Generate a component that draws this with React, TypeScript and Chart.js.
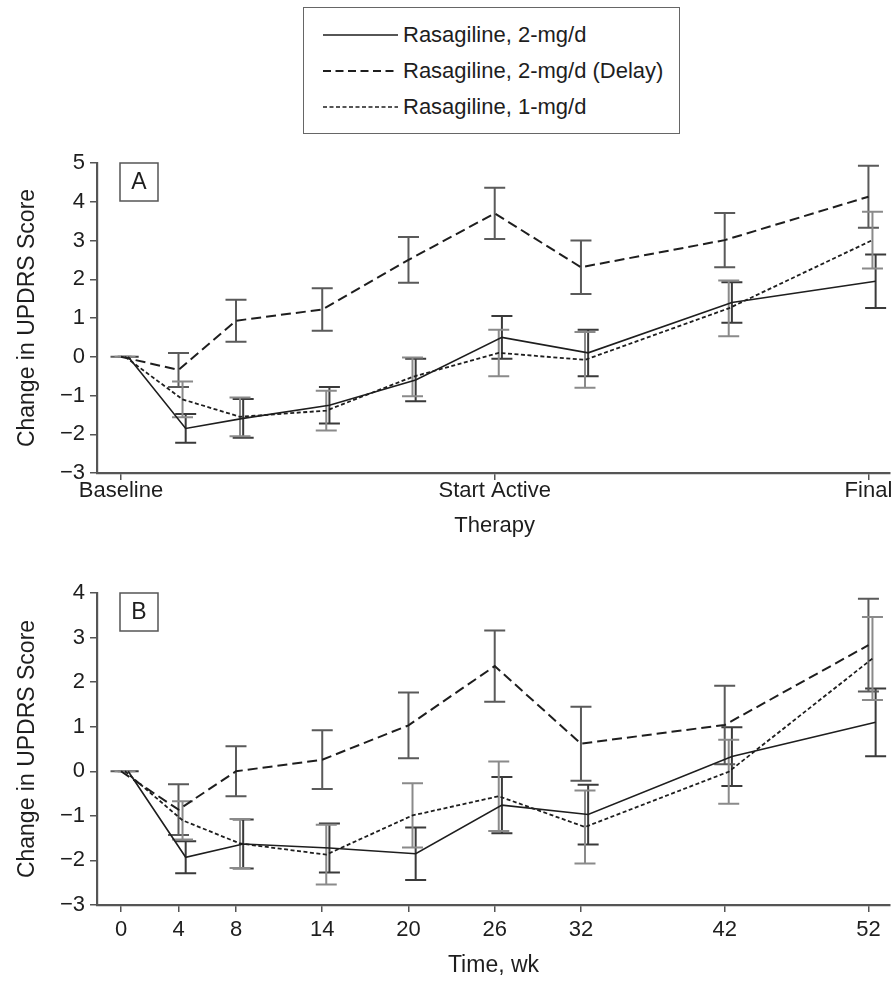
import React, { useEffect, useRef } from 'react';
import { Chart, registerables } from 'chart.js';
Chart.register(...registerables);

// ---------- data ----------
const weeks = [0, 4, 8, 14, 20, 26, 32, 42, 52];
const seriesNames = ['Rasagiline, 2-mg/d', 'Rasagiline, 2-mg/d (Delay)', 'Rasagiline, 1-mg/d'];

const aTickWeeks = [0, 26, 52];
const aTickLabels: (string | string[])[] = ['Baseline', ['Start Active', 'Therapy'], 'Final'];
const bTickWeeks = [0, 4, 8, 14, 20, 26, 32, 42, 52];
const bTickLabels = ['0', '4', '8', '14', '20', '26', '32', '42', '52'];

// Panel A
const aSolid = [0, -1.85, -1.59, -1.25, -0.6, 0.5, 0.1, 1.4, 1.95];
const aSolidSE = [0, 0.37, 0.5, 0.47, 0.55, 0.55, 0.6, 0.52, 0.69];
const aDelay = [0, -0.34, 0.93, 1.22, 2.5, 3.7, 2.31, 3.01, 4.13];
const aDelaySE = [0, 0.44, 0.54, 0.55, 0.59, 0.66, 0.69, 0.7, 0.8];
const aLow = [0, -1.1, -1.55, -1.39, -0.52, 0.1, -0.08, 1.25, 3.01];
const aLowSE = [0, 0.46, 0.5, 0.51, 0.5, 0.6, 0.72, 0.72, 0.73];

// Panel B
const bSolid = [0, -1.93, -1.63, -1.72, -1.85, -0.76, -0.97, 0.33, 1.1];
const bSolidSE = [0, 0.36, 0.55, 0.55, 0.59, 0.63, 0.67, 0.66, 0.76];
const bDelay = [0, -0.86, 0.0, 0.26, 1.03, 2.36, 0.62, 1.04, 2.83];
const bDelaySE = [0, 0.57, 0.56, 0.66, 0.74, 0.8, 0.83, 0.88, 1.04];
const bLow = [0, -1.1, -1.62, -1.87, -0.99, -0.56, -1.25, -0.01, 2.53];
const bLowSE = [0, 0.43, 0.55, 0.67, 0.72, 0.78, 0.82, 0.72, 0.93];

// ---------- styles ----------
const FONT = "'Liberation Sans', Arial, sans-serif";
const INK = '#1e1e1e';
const AXIS = '#555';
// horizontal dodge (in weeks) so error bars don't overlap
const dodge = [0.5, 0, 0.28];
const lineStyles = [
  { dash: [] as number[], width: 1.6, bar: '#3a3a3a' },
  { dash: [10, 5], width: 2, bar: '#5a5a5a' },
  { dash: [4, 2.5], width: 1.8, bar: '#8a8a8a' },
];

const errorBarPlugin = {
  id: 'errorBars',
  beforeDatasetsDraw(chart: any) {
    const ctx = chart.ctx;
    const y = chart.scales.y;
    chart.data.datasets.forEach((ds: any, i: number) => {
      const meta = chart.getDatasetMeta(i);
      ctx.save();
      ctx.strokeStyle = ds.barColor;
      ctx.lineWidth = 2;
      ctx.setLineDash([]);
      ds.data.forEach((p: any, j: number) => {
        const x = meta.data[j].x;
        const se = ds.se[j];
        const yt = y.getPixelForValue(p.y + se);
        const yb = y.getPixelForValue(p.y - se);
        ctx.beginPath();
        ctx.moveTo(x, yt);
        ctx.lineTo(x, yb);
        ctx.moveTo(x - 10.5, yt);
        ctx.lineTo(x + 10.5, yt);
        ctx.moveTo(x - 10.5, yb);
        ctx.lineTo(x + 10.5, yb);
        ctx.stroke();
      });
      ctx.restore();
    });
  },
};

const panelLabelPlugin = {
  id: 'panelLabel',
  afterDraw(chart: any, _args: any, opts: any) {
    const { ctx, chartArea } = chart;
    const x = chartArea.left + 23;
    const yTop = chartArea.top;
    ctx.save();
    ctx.strokeStyle = '#555';
    ctx.lineWidth = 1.5;
    ctx.strokeRect(x, yTop, 38, 38);
    ctx.fillStyle = INK;
    ctx.font = `23px ${FONT}`;
    ctx.textAlign = 'center';
    ctx.textBaseline = 'middle';
    ctx.fillText(opts.text, x + 19, yTop + 20);
    ctx.restore();
  },
};

function buildDatasets(vals: number[][], ses: number[][]) {
  return vals.map((v, i) => ({
    label: seriesNames[i],
    data: v.map((val, j) => ({ x: weeks[j] + dodge[i], y: val })),
    se: ses[i],
    barColor: lineStyles[i].bar,
    borderColor: INK,
    borderWidth: lineStyles[i].width,
    borderDash: lineStyles[i].dash,
    pointRadius: 0,
    tension: 0,
    fill: false,
  }));
}

const minusFmt = (v: number) => (v < 0 ? '\u2212' + Math.abs(v) : String(v));

function makeConfig(opts: {
  vals: number[][];
  ses: number[][];
  yMin: number;
  yMax: number;
  padTop: number;
  xHeight: number;
  tickWeeks: number[];
  tickLabels: (string | string[])[];
  xTitle: string | null;
  label: string;
  tickPad: number;
  tickLH: number;
}) {
  return {
    type: 'line' as const,
    data: { datasets: buildDatasets(opts.vals, opts.ses) },
    plugins: [errorBarPlugin, panelLabelPlugin],
    options: {
      responsive: false,
      maintainAspectRatio: false,
      animation: false,
      layout: { padding: { top: opts.padTop, right: 3, left: 0, bottom: 0 } },
      plugins: {
        legend: { display: false },
        tooltip: { enabled: false },
        panelLabel: { text: opts.label },
      },
      scales: {
        x: {
          type: 'linear',
          min: -1.67,
          max: 53.5,
          afterBuildTicks: (s: any) => {
            s.ticks = opts.tickWeeks.map((v) => ({ value: v }));
          },
          afterFit: (s: any) => {
            s.height = opts.xHeight;
          },
          ticks: {
            autoSkip: false,
            maxRotation: 0,
            color: INK,
            padding: opts.tickPad,
            font: { family: FONT, size: 22, lineHeight: opts.tickLH },
            callback: (_v: any, i: number) => opts.tickLabels[i],
          },
          grid: { drawOnChartArea: false, drawTicks: true, tickLength: 7, color: AXIS, lineWidth: 1.5 },
          border: { display: true, color: AXIS, width: 2.2 },
          title: {
            display: !!opts.xTitle,
            text: opts.xTitle || '',
            color: INK,
            font: { family: FONT, size: 23 },
            padding: { top: 0, bottom: 4 },
          },
        },
        y: {
          min: opts.yMin,
          max: opts.yMax,
          afterFit: (s: any) => {
            s.width = 97;
          },
          ticks: {
            stepSize: 1,
            color: INK,
            padding: 5,
            font: { family: FONT, size: 22 },
            callback: (v: any) => minusFmt(Number(v)),
          },
          grid: { drawOnChartArea: false, drawTicks: true, tickLength: 7, color: AXIS, lineWidth: 1.5 },
          border: { display: true, color: AXIS, width: 2.2 },
          title: {
            display: true,
            text: 'Change in UPDRS Score',
            color: INK,
            font: { family: FONT, size: 23 },
            padding: { top: 14, bottom: 0 },
          },
        },
      },
    },
  };
}

function ChartCanvas(props: { config: any; top: number; height: number }) {
  const ref = useRef<HTMLCanvasElement | null>(null);
  useEffect(() => {
    if (!ref.current) return;
    const chart = new Chart(ref.current, props.config);
    return () => chart.destroy();
  }, []);
  return (
    <canvas
      ref={ref}
      width={893}
      height={props.height}
      style={{ position: 'absolute', left: 0, top: props.top, width: 893, height: props.height }}
    />
  );
}

function LegendRow(props: { y: number; dash: string; width: number; text: string }) {
  return (
    <div style={{ position: 'absolute', left: 0, top: props.y - 18, height: 36, width: '100%' }}>
      <svg width={76} height={36} style={{ position: 'absolute', left: 19, top: 0 }}>
        <line x1={0} y1={18} x2={75} y2={18} stroke={INK} strokeWidth={props.width} strokeDasharray={props.dash} />
      </svg>
      <span
        style={{
          position: 'absolute',
          left: 99,
          top: 0,
          lineHeight: '36px',
          fontFamily: FONT,
          fontSize: 22,
          color: INK,
          whiteSpace: 'nowrap',
        }}
      >
        {props.text}
      </span>
    </div>
  );
}

export default function App() {
  const configA = makeConfig({
    vals: [aSolid, aDelay, aLow],
    ses: [aSolidSE, aDelaySE, aLowSE],
    yMin: -3,
    yMax: 5,
    padTop: 23,
    xHeight: 87,
    tickWeeks: aTickWeeks,
    tickLabels: aTickLabels,
    xTitle: null,
    label: 'A',
    tickPad: -7,
    tickLH: 1.6,
  });
  const configB = makeConfig({
    vals: [bSolid, bDelay, bLow],
    ses: [bSolidSE, bDelaySE, bLowSE],
    yMin: -3,
    yMax: 4,
    padTop: 53,
    xHeight: 78,
    tickWeeks: bTickWeeks,
    tickLabels: bTickLabels,
    xTitle: 'Time, wk',
    label: 'B',
    tickPad: 5,
    tickLH: 1.2,
  });
  return (
    <div style={{ position: 'absolute', left: 0, top: 0, width: 893, height: 983, background: '#fff', overflow: 'hidden' }}>
      <div
        style={{
          position: 'absolute',
          left: 303,
          top: 7,
          width: 377,
          height: 127,
          border: '1.5px solid #666',
          boxSizing: 'border-box',
        }}
      >
        <LegendRow y={26.5} dash="" width={1.6} text={seriesNames[0]} />
        <LegendRow y={63} dash="8 4.5" width={2} text={seriesNames[1]} />
        <LegendRow y={99} dash="4 2.5" width={1.6} text={seriesNames[2]} />
      </div>
      <ChartCanvas config={configA} top={140} height={420} />
      <ChartCanvas config={configB} top={540} height={443} />
    </div>
  );
}
